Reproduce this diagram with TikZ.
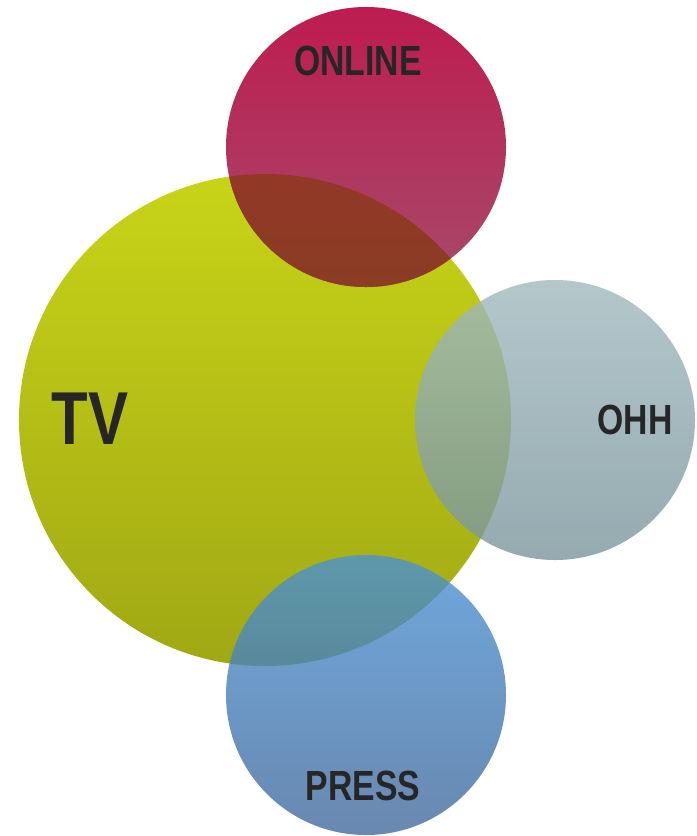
\documentclass[tikz,border=0pt]{standalone}
\usepackage{fontspec}
\setmainfont{Liberation Sans}
\usepackage{graphicx}

\definecolor{tvtop}{RGB}{200,212,24}
\definecolor{tvbot}{RGB}{160,168,20}
\definecolor{onlinetop}{RGB}{190,28,80}
\definecolor{onlinebot}{RGB}{166,74,106}
\definecolor{mixtop}{RGB}{158,50,42}
\definecolor{mixbot}{RGB}{138,60,36}
\definecolor{ohhtop}{RGB}{161,186,191}
\definecolor{ohhbot}{RGB}{121,149,156}
\definecolor{presstop}{RGB}{76,146,211}
\definecolor{pressbot}{RGB}{66,106,156}
\definecolor{tagtext}{RGB}{38,38,38}

\tikzset{
  bubble/.style={circle,inner sep=0pt,draw=none,fill opacity=0.8},
  tag/.style={text=tagtext,inner sep=0pt,
    font=\bfseries\fontsize{36}{36}\selectfont},
  bigtag/.style={tag,font=\bfseries\fontsize{64}{64}\selectfont}
}

\newcommand{\narrow}[1]{\scalebox{0.8}[1]{#1}}

\begin{document}
\begin{tikzpicture}[x=0.03cm,y=-0.03cm]
  \useasboundingbox (0,0) rectangle (696,836);

  % Coordinates
  \coordinate (tvc) at (265,420);
  \coordinate (onlinec) at (366,147);
  \coordinate (ohhc) at (555,420);
  \coordinate (pressc) at (366,695);

  % Circles
  \node[bubble,fill opacity=1,minimum size=14.76cm,
    top color=tvtop,bottom color=tvbot] (tv) at (tvc) {};
  \node[bubble,fill opacity=1,minimum size=8.4cm,
    top color=onlinetop,bottom color=onlinebot] (online) at (onlinec) {};
  % overlap of online and tv
  \begin{scope}
    \clip (tvc) circle[radius=7.38cm];
    \shade[top color=mixtop,bottom color=mixbot] (onlinec) circle[radius=4.2cm];
  \end{scope}
  \node[bubble,minimum size=8.4cm,
    top color=ohhtop,bottom color=ohhbot] (ohh) at (ohhc) {};
  \node[bubble,minimum size=8.4cm,
    top color=presstop,bottom color=pressbot] (press) at (pressc) {};

  % Labels
  \node[bigtag] (tvtext) at (90,419) {\narrow{TV}};
  \node[tag] (onlinetext) at (358,61) {\narrow{ONLINE}};
  \node[tag] (ohhtext) at (635,420) {\narrow{OHH}};
  \node[tag] (presstext) at (363,786) {\narrow{PRESS}};
\end{tikzpicture}
\end{document}
